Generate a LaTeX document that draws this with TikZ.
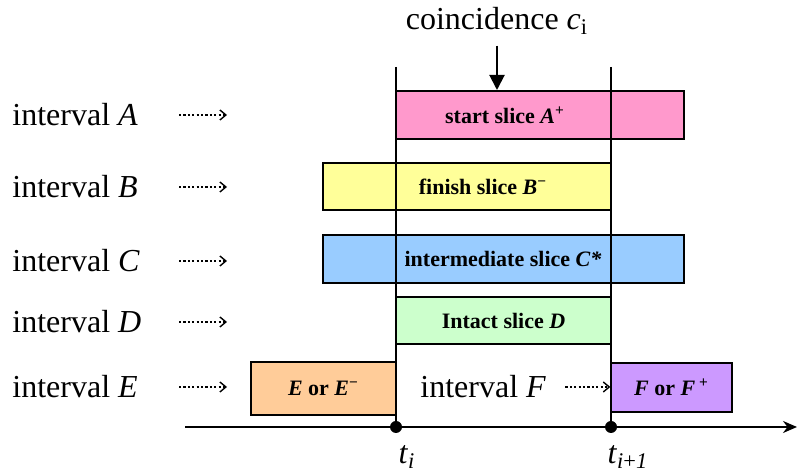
\documentclass[tikz,border=0pt]{standalone}
\usepackage{fontspec}
\setmainfont{Liberation Serif}
\usetikzlibrary{arrows.meta, positioning}
\definecolor{slicepink}{HTML}{FF99CC}
\definecolor{sliceyellow}{HTML}{FFFF99}
\definecolor{sliceblue}{HTML}{99CCFF}
\definecolor{slicegreen}{HTML}{CCFFCC}
\definecolor{sliceorange}{HTML}{FFCC99}
\definecolor{slicepurple}{HTML}{CC99FF}
\newcommand{\bigtxt}{\fontsize{16}{19}\selectfont}
\newcommand{\slicetxt}{\fontsize{11}{13}\selectfont\bfseries}
\newcommand{\iv}[1]{\textit{#1}}

\tikzset{
  slicebox/.style={draw=black, line width=1pt, inner sep=0pt},
  slicelbl/.style={font=\slicetxt, inner sep=0pt},
  intlbl/.style={font=\bigtxt, anchor=west, inner sep=0pt},
  dotarrow/.style={line width=1.2pt, dash pattern=on 1.1pt off 1.1pt,
                   -{Straight Barb[length=3pt, width=5pt, line width=0.7pt]}},
  timeline/.style={line width=1.4pt},
  tdot/.style={circle, fill=black, inner sep=0pt, minimum size=6pt}
}

\begin{document}
\begin{tikzpicture}[x=0.5pt, y=-0.5pt]
  \useasboundingbox (0,0) rectangle (798,474);
  % Slices
  \node[slicebox, fill=slicepink, minimum width=144pt, minimum height=24pt]
        (boxA) at (540,115) {};
  \node[slicebox, fill=sliceyellow, minimum width=144pt, minimum height=23.5pt]
        (boxB) at (467,186.5) {};
  \node[slicebox, fill=sliceblue, minimum width=180.5pt, minimum height=24pt]
        (boxC) at (503.5,259) {};
  \node[slicebox, fill=slicegreen, minimum width=107.5pt, minimum height=23.5pt]
        (boxD) at (503.5,320.5) {};
  \node[slicebox, fill=sliceorange, minimum width=72.5pt, minimum height=26.5pt]
        (boxE) at (323.5,388.5) {};
  \node[slicebox, fill=slicepurple, minimum width=60.5pt, minimum height=24.5pt]
        (boxF) at (671.5,387.5) {};
  % Slice labels
  \node[slicelbl] (txtA) at (505,115) {start slice \iv{A}\textsuperscript{+}};
  \node[slicelbl] (txtB) at (483,186.5) {finish slice \iv{B}\textsuperscript{−}};
  \node[slicelbl] (txtC) at (503,259) {intermediate slice \iv{C*}};
  \node[slicelbl] (txtD) at (boxD) {Intact slice \iv{D}};
  \node[slicelbl] (txtE) at (boxE) {\iv{E} or \iv{E}\textsuperscript{−}};
  \node[slicelbl] (txtF) at (boxF) {\iv{F} or \iv{F}\,\textsuperscript{+}};
  % Time axis
  \coordinate (axL) at (185,427);
  \coordinate (axR) at (797,427);
  \coordinate (tiTop) at (396,67);
  \coordinate (tnTop) at (611,67);
  \node[tdot] (ti) at (396,427) {};
  \node[tdot] (tn) at (611,427) {};
  \draw[timeline] (tiTop) -- (ti.center);
  \draw[timeline] (tnTop) -- (tn.center);
  \draw[line width=1pt, -{Stealth[length=7pt, width=6pt]}] (axL) -- (axR);
  \node[font=\bigtxt] (tiLbl) at (407,457) {\iv{t}\textsubscript{\iv{i}}};
  \node[font=\bigtxt] (tnLbl) at (628,457) {\iv{t}\textsubscript{\iv{i}+\iv{1}}};
  % Coincidence
  \node[font=\bigtxt] (coin) at (497,21) {coincidence \iv{c}\textsubscript{i}};
  \draw[line width=1pt, -{Triangle[length=7.5pt, width=7.5pt]}]
    (coin.south) ++(0,4) -- (coin.south |- boxA.north);
  % Intervals
  \foreach \n/\y in {A/115, B/187, C/261, D/322, E/387}{
    \node[intlbl] (int\n) at (12,\y) {interval \iv{\n}};
    \draw[dotarrow] ([xshift=83.5pt]int\n.west) -- ++(48,0);
  }
  \node[intlbl] (intF) at (420,387) {interval \iv{F}};
  \draw[dotarrow] ([xshift=9.5pt]intF.east) -- ++(45,0);
\end{tikzpicture}
\end{document}
